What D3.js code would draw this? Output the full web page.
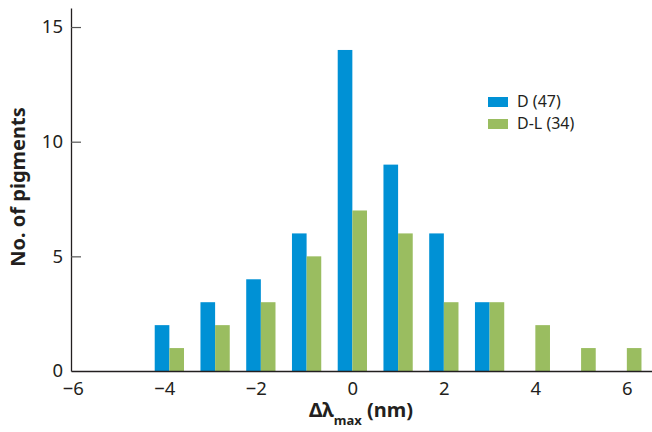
<!DOCTYPE html>
<html>
<head>
<meta charset="utf-8">
<script src="https://cdn.jsdelivr.net/npm/d3@7"></script>
<style>
  body { margin: 0; background: #fff; }
  svg { display: block; font-family: "Noto Sans", "Open Sans", sans-serif; }
</style>
</head>
<body>
<svg></svg>
<script>
// bins of delta lambda max (nm)
var shifts = [-4, -3, -2, -1, 0, 1, 2, 3, 4, 5, 6];
// counts per bin, one array per series
var dCounts = [2, 3, 4, 6, 14, 9, 6, 3, 0, 0, 0];
var dlCounts = [1, 2, 3, 5, 7, 6, 3, 3, 2, 1, 1];
var seriesNames = ["D (47)", "D-L (34)"];
var xTicks = [-6, -4, -2, 0, 2, 4, 6];
var yTicks = [0, 5, 10, 15];

var width = 652;
var height = 432;
var ink = "#231f20";
var colors = ["#0091d5", "#9abd60"];

var svg = d3.select("svg").attr("width", width).attr("height", height);

var x = d3.scaleLinear().domain([-6.15, 6.55]).range([71, 652]);
var y = d3.scaleLinear().domain([0, 15.83]).range([371, 8]);
var barW = x(0.32) - x(0);

/* bars: D sits just left of the bin value, D-L just right */
var series = [dCounts, dlCounts];
series.forEach(function (counts, s) {
  svg.append("g")
    .selectAll("rect")
    .data(shifts.map(function (v, i) { return [v, counts[i]]; }).filter(function (d) { return d[1] > 0; }))
    .enter()
    .append("rect")
    .attr("x", function (d) { return s === 0 ? x(d[0]) - barW : x(d[0]); })
    .attr("width", barW)
    .attr("y", function (d) { return y(d[1]); })
    .attr("height", function (d) { return y(0) - y(d[1]); })
    .attr("fill", colors[s]);
});

/* axes */
var yAxis = d3.axisLeft(y)
  .tickValues(yTicks)
  .tickSizeInner(-10)
  .tickSizeOuter(0)
  .tickPadding(8);
var gy = svg.append("g").attr("transform", "translate(71,0)").call(yAxis);

var xAxis = d3.axisBottom(x)
  .tickValues(xTicks)
  .tickSize(0)
  .tickFormat(function (d) { return d < 0 ? "\u2212" + Math.abs(d) : d; })
  .tickPadding(11);
var gx = svg.append("g").attr("transform", "translate(0,371)").call(xAxis);

[gx, gy].forEach(function (g) {
  g.select(".domain").attr("stroke", ink).attr("stroke-width", 1.3);
  g.selectAll(".tick line").attr("stroke", "#555").attr("stroke-width", 1.2);
  g.selectAll(".tick text").attr("fill", ink).style("font-size", "18.5px").style("font-family", "'Noto Sans', sans-serif");
});
gy.selectAll(".tick").filter(function (d) { return d === 0; }).select("line").remove();
// negative labels: keep the digit over the tick, minus hangs left
gx.selectAll(".tick text").filter(function (d) { return d < 0; })
  .attr("text-anchor", "end").attr("dx", "0.3em");

/* axis titles */
svg.append("text")
  .attr("transform", "translate(25,187) rotate(-90)")
  .attr("text-anchor", "middle")
  .attr("fill", ink)
  .style("font-size", "20px")
  .style("font-weight", "bold")
  .text("No. of pigments");

var xt = svg.append("text")
  .attr("x", 361)
  .attr("y", 417)
  .attr("text-anchor", "middle")
  .attr("fill", ink)
  .style("font-size", "20px")
  .style("font-weight", "bold");
xt.append("tspan").text("\u0394\u03bb");
xt.append("tspan").attr("dy", 8).style("font-size", "13px").text("max");
xt.append("tspan").attr("dy", -8).text(" (nm)");

/* legend */
var legend = svg.append("g").attr("transform", "translate(488,97)");
seriesNames.forEach(function (name, i) {
  legend.append("rect")
    .attr("x", 0).attr("y", i * 22)
    .attr("width", 20).attr("height", 10)
    .attr("fill", colors[i]);
  legend.append("text")
    .attr("x", 29).attr("y", i * 22 + 10)
    .attr("fill", ink)
    .style("font-size", "16px")
    .text(name);
});
</script>
</body>
</html>
